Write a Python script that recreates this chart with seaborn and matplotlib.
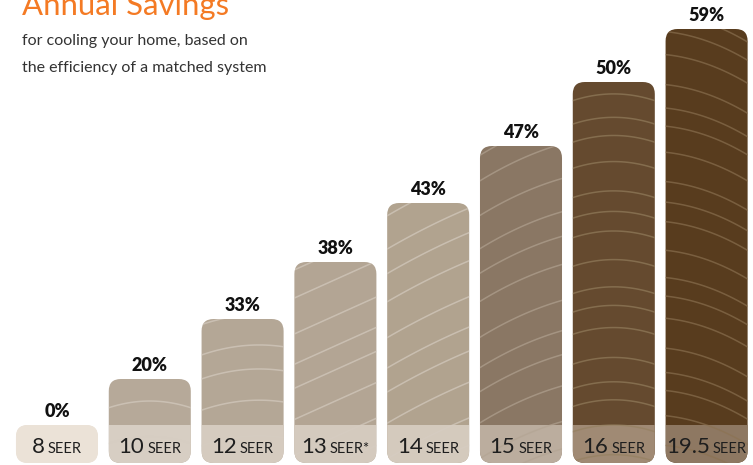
import numpy as np
import pandas as pd
import matplotlib
matplotlib.use("Agg")
import matplotlib.pyplot as plt
import seaborn as sns
from matplotlib.patches import FancyBboxPatch

# ---------------- data ----------------
seer_ratings = ["8", "10", "12", "13", "14", "15", "16", "19.5"]
savings_pct = [0, 20, 33, 38, 43, 47, 50, 59]
# bar heights as drawn in the picture (not proportional to the percentages)
bar_levels = [38, 84, 144, 201, 260, 317, 381, 434]
band_level = 38
unit_labels = ["SEER", "SEER", "SEER", "SEER*", "SEER", "SEER", "SEER", "SEER"]

title = "Annual Savings"
subtitle_1 = "for cooling your home, based on"
subtitle_2 = "the efficiency of a matched system"

# ---------------- style ----------------
top_colors = ["#ebe2d7", "#b6a999", "#b4a796", "#b3a594", "#b1a38f",
              "#8a7764", "#654a2f", "#583c1e"]
band_colors = ["#ebe2d7", "#d7cec3", "#d5cbbf", "#d4cabe", "#d4cabd",
               "#bbad9e", "#a08a74", "#8e7862"]
grain_colors = ["#f3ece3", "#d6cdc2", "#d6cdc2", "#d6cdc2", "#d6cdc2",
              "#b3a493", "#95805f", "#8c7252"]

sns.set_theme(style="white")
plt.rcParams["font.family"] = ["Lato", "DejaVu Sans"]

W, H = 753, 465
fig = plt.figure(figsize=(W / 100, H / 100), dpi=100)
ax = fig.add_axes([0, 0, 1, 1])

df = pd.DataFrame({"seer": seer_ratings, "level": bar_levels,
                   "band": [band_level] * len(seer_ratings),
                   "pct": savings_pct})

bar_w = 0.884
sns.barplot(data=df, x="seer", y="level", hue="seer", palette=top_colors,
            width=bar_w, errorbar=None, saturation=1, legend=False, ax=ax)
sns.barplot(data=df, x="seer", y="band", hue="seer", palette=band_colors,
            width=bar_w, errorbar=None, saturation=1, legend=False, ax=ax)

xmin, xmax = -0.614, 7.50
ax.set_xlim(xmin, xmax)
ax.set_ylim(-2, 463)
ax.set_axis_off()

px_per_x = W / (xmax - xmin)   # pixels per x unit; y unit = 1 px
radius_px = 12
r = radius_px / px_per_x

n = len(seer_ratings)
patches = list(ax.patches)
top_patches = patches[:n]
band_patches = patches[n:2 * n]

rounded = []
for i, p in enumerate(top_patches):
    x0, y0, w, h = p.get_x(), p.get_y(), p.get_width(), p.get_height()
    fp = FancyBboxPatch((x0, y0), w, h,
                        boxstyle=f"round,pad=0,rounding_size={r}",
                        mutation_aspect=px_per_x,
                        fc=p.get_facecolor(), ec="none", zorder=2)
    ax.add_patch(fp)
    rounded.append(fp)
    p.set_visible(False)

for i, p in enumerate(band_patches):
    p.set_zorder(3)
    p.set_clip_path(rounded[i])
    p.set_edgecolor("none")

# wood-grain texture (decorative), clipped to each bar
grain_style = [(0.0, 0.0), (0.0, -0.004), (0.1, -0.003), (0.45, 0.0),
               (0.5, -0.001), (0.45, -0.002), (0.0, -0.004), (-0.35, -0.003)]
for i, fp in enumerate(rounded):
    if i == 0:
        continue
    x0, w, h = fp.get_x(), fp.get_width(), fp.get_height()
    slope, curv = grain_style[i]
    xs = np.linspace(x0, x0 + w, 60)
    xp = (xs - (x0 + w / 2)) * px_per_x
    spacing = 24 if i >= 6 else 30
    offs = np.arange(-60, h + 60, spacing)
    for k, o in enumerate(offs):
        ys = o + slope * xp + curv * xp ** 2 + 4 * np.sin(k * 1.7)
        ln, = ax.plot(xs, ys, color=grain_colors[i], lw=1.1, alpha=0.65,
                      zorder=4, solid_capstyle="round")
        ln.set_clip_path(fp)

# percent labels
for i, (lvl, pct) in enumerate(zip(bar_levels, savings_pct)):
    ax.annotate(f"{pct}%", (i, lvl), xytext=(0, 5), textcoords="offset pixels",
                ha="center", va="bottom", fontsize=13, fontweight="heavy",
                color="#111111", zorder=6)

# band labels: number + small "SEER"
renderer = fig.canvas.get_renderer()
base_y = 10
for i, (num, unit) in enumerate(zip(seer_ratings, unit_labels)):
    t1 = ax.annotate(num, (i, base_y), xytext=(0, 0), textcoords="offset pixels",
                     ha="left", va="baseline", fontsize=16, color="#1e1e1e",
                     zorder=6)
    t2 = ax.annotate(unit, (i, base_y), xytext=(0, 0), textcoords="offset pixels",
                     ha="left", va="baseline", fontsize=10.5, color="#1e1e1e",
                     zorder=6)
    w1 = t1.get_window_extent(renderer).width
    w2 = t2.get_window_extent(renderer).width
    gap = 3
    total = w1 + gap + w2
    t1.xyann = (-total / 2, 0)
    t2.xyann = (-total / 2 + w1 + gap, 0)

# title + subtitle
fig.text(22 / W, 1 - 15 / H, title, color="#f47a24", fontsize=22.4,
         ha="left", va="baseline")
fig.text(22 / W, 1 - 45 / H, subtitle_1, color="#333333", fontsize=11.5,
         ha="left", va="baseline")
fig.text(22 / W, 1 - 72 / H, subtitle_2, color="#333333", fontsize=11.5,
         ha="left", va="baseline")

fig.savefig("out.png", dpi=100)
